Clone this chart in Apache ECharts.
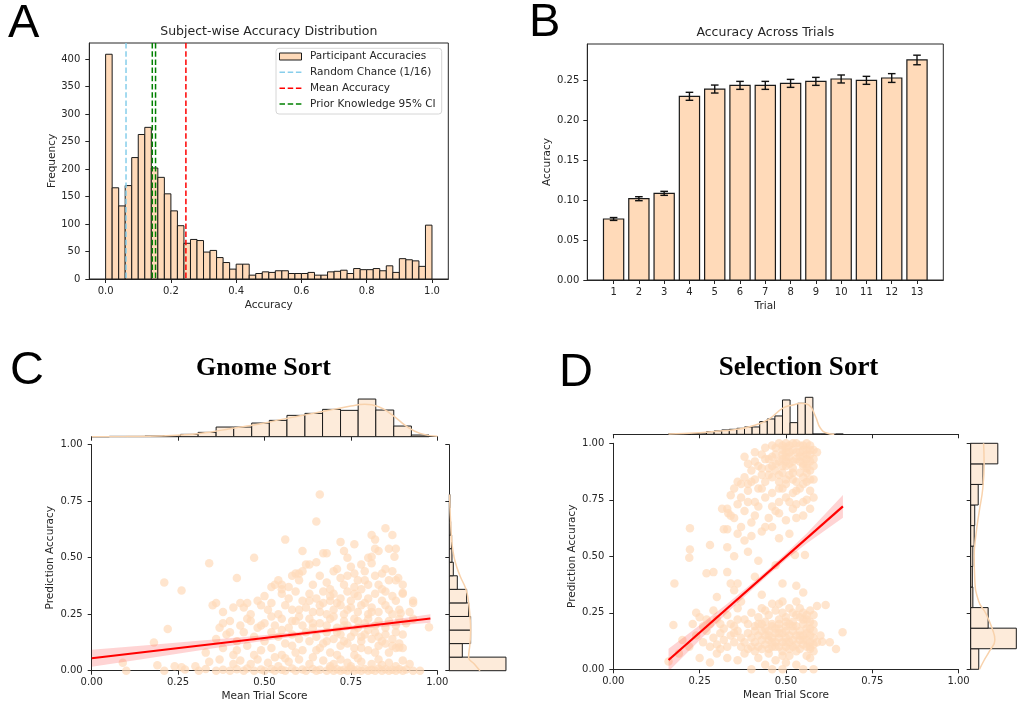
<!DOCTYPE html>
<html><head><meta charset="utf-8">
<script src="https://cdn.jsdelivr.net/npm/echarts@6/dist/echarts.min.js"></script>
<style>html,body{margin:0;padding:0;background:#fff}#c{width:1019px;height:708px}</style>
</head><body><div id="c"></div>
<script>
// ---------- Panel A data ----------
const accBinEdges = [0,0.02,0.04,0.06,0.08,0.10,0.12,0.14,0.16,0.18,0.20,0.22,0.24,0.26,0.28,0.30,0.32,0.34,0.36,0.38,0.40,0.42,0.44,0.46,0.48,0.50,0.52,0.54,0.56,0.58,0.60,0.62,0.64,0.66,0.68,0.70,0.72,0.74,0.76,0.78,0.80,0.82,0.84,0.86,0.88,0.90,0.92,0.94,0.96,0.98,1.00];
const accCounts = [409,166,133,170,221,263,276,202,185,155,124,97,65,72,70,49,52,39,30,18,27,27,7,10,13,12,15,15,10,10,10,12,7,7,13,14,16,10,19,17,17,19,15,24,12,37,35,33,23,98];
const refLineNames = ['Participant Accuracies','Random Chance (1/16)','Mean Accuracy','Prior Knowledge 95% CI'];
const refLineValues = [0.0625, 0.246, 0.143, 0.153];
const accXTicks = [0,0.2,0.4,0.6,0.8,1.0];
const accYTicks = [0,50,100,150,200,250,300,350,400];

// ---------- Panel B data ----------
const trials = [1,2,3,4,5,6,7,8,9,10,11,12,13];
const trialAcc = [0.0764,0.1018,0.1085,0.2300,0.2391,0.2437,0.2437,0.2462,0.2487,0.2517,0.2500,0.2529,0.2755];
const trialErr = [0.0018,0.0025,0.0025,0.0050,0.0050,0.0050,0.0050,0.0050,0.0050,0.0050,0.0050,0.0055,0.0060];
const trialYTicks = [0,0.05,0.10,0.15,0.20,0.25];

// ---------- Panel C data (Gnome Sort) ----------
const gnomePoints = [
[0.10,0.0],[0.21,0.0],[0.27,0.005],[0.31,0.0],[0.33,0.008],[0.36,0.0],[0.38,0.004],[0.40,0.0],[0.42,0.006],[0.44,0.0],[0.45,0.01],[0.47,0.0],[0.49,0.005],[0.50,0.0],[0.52,0.008],[0.53,0.0],[0.55,0.004],[0.56,0.0],[0.58,0.01],[0.59,0.0],[0.61,0.005],[0.62,0.0],[0.64,0.008],[0.65,0.0],[0.66,0.004],[0.68,0.0],[0.69,0.01],[0.70,0.0],[0.71,0.006],[0.72,0.0],[0.73,0.004],[0.74,0.0],[0.75,0.01],[0.76,0.0],[0.77,0.005],[0.78,0.0],[0.79,0.008],[0.80,0.0],[0.81,0.004],[0.82,0.0],[0.83,0.01],[0.84,0.0],[0.85,0.006],[0.86,0.0],[0.87,0.004],[0.88,0.0],[0.89,0.008],[0.90,0.0],[0.91,0.005],[0.93,0.0],[0.95,0.0],
[0.09,0.035],[0.19,0.024],[0.24,0.02],[0.26,0.015],[0.30,0.02],[0.34,0.04],[0.37,0.05],[0.41,0.03],[0.43,0.045],[0.46,0.03],[0.48,0.05],[0.51,0.035],[0.54,0.02],[0.57,0.04],[0.60,0.05],[0.63,0.03],[0.67,0.045],[0.70,0.03],[0.72,0.05],[0.75,0.02],[0.78,0.04],[0.81,0.03],[0.83,0.05],[0.86,0.035],[0.88,0.02],[0.90,0.045],[0.92,0.03],[0.74,0.035],[0.77,0.055],[0.69,0.02],[0.56,0.055],[0.84,0.025],
[0.33,0.08],[0.38,0.10],[0.41,0.07],[0.45,0.11],[0.49,0.09],[0.52,0.10],[0.55,0.07],[0.58,0.11],[0.61,0.09],[0.64,0.06],[0.66,0.10],[0.69,0.08],[0.72,0.11],[0.76,0.07],[0.78,0.10],[0.80,0.09],[0.83,0.11],[0.86,0.08],[0.88,0.10],[0.89,0.103],[0.42,0.09],[0.47,0.07],[0.53,0.06],[0.59,0.08],[0.65,0.09],[0.71,0.07],[0.76,0.10],[0.82,0.08],[0.87,0.11],[0.90,0.10],
[0.18,0.125],[0.36,0.14],[0.39,0.16],[0.42,0.13],[0.44,0.17],[0.47,0.15],[0.50,0.13],[0.52,0.17],[0.54,0.15],[0.56,0.12],[0.58,0.16],[0.60,0.14],[0.62,0.17],[0.63,0.13],[0.65,0.15],[0.67,0.12],[0.68,0.17],[0.70,0.14],[0.72,0.16],[0.73,0.13],[0.75,0.15],[0.76,0.17],[0.78,0.13],[0.79,0.16],[0.81,0.14],[0.82,0.17],[0.84,0.13],[0.85,0.16],[0.87,0.14],[0.89,0.12],[0.90,0.16],[0.74,0.12],[0.71,0.17],[0.68,0.13],[0.83,0.15],[0.88,0.17],[0.85,0.12],[0.78,0.15],[0.55,0.18],[0.40,0.17],
[0.22,0.185],[0.37,0.19],[0.40,0.22],[0.43,0.20],[0.45,0.23],[0.48,0.19],[0.50,0.21],[0.53,0.20],[0.55,0.23],[0.57,0.19],[0.59,0.22],[0.61,0.20],[0.63,0.23],[0.64,0.19],[0.66,0.21],[0.68,0.20],[0.69,0.23],[0.71,0.19],[0.73,0.22],[0.74,0.20],[0.76,0.23],[0.77,0.19],[0.79,0.21],[0.80,0.23],[0.82,0.20],[0.83,0.22],[0.85,0.19],[0.86,0.22],[0.88,0.20],[0.91,0.21],[0.93,0.23],[0.976,0.192],[0.80,0.18],[0.77,0.22],[0.73,0.20],[0.64,0.21],[0.58,0.22],[0.52,0.24],[0.49,0.20],[0.46,0.22],[0.38,0.21],[0.89,0.23],
[0.35,0.29],[0.36,0.30],[0.38,0.26],[0.41,0.28],[0.46,0.25],[0.49,0.29],[0.51,0.27],[0.54,0.25],[0.56,0.29],[0.58,0.27],[0.60,0.24],[0.62,0.28],[0.64,0.26],[0.66,0.29],[0.68,0.25],[0.70,0.27],[0.71,0.30],[0.73,0.25],[0.75,0.28],[0.77,0.26],[0.78,0.29],[0.80,0.25],[0.81,0.28],[0.83,0.26],[0.85,0.29],[0.87,0.25],[0.89,0.27],[0.92,0.26],[0.894,0.254],[0.81,0.26],[0.74,0.27],[0.72,0.29],[0.66,0.26],[0.60,0.27],[0.44,0.28],[0.86,0.27],[0.70,0.24],
[0.43,0.30],[0.45,0.30],[0.48,0.31],[0.50,0.33],[0.52,0.30],[0.55,0.34],[0.57,0.32],[0.59,0.35],[0.61,0.31],[0.63,0.34],[0.65,0.32],[0.67,0.35],[0.69,0.31],[0.70,0.34],[0.72,0.32],[0.74,0.35],[0.75,0.31],[0.77,0.33],[0.78,0.36],[0.80,0.32],[0.82,0.34],[0.84,0.31],[0.85,0.35],[0.87,0.33],[0.90,0.34],[0.93,0.31],[0.93,0.30],[0.90,0.345],[0.88,0.31],[0.79,0.30],[0.76,0.34],[0.69,0.33],[0.67,0.30],[0.63,0.31],
[0.21,0.39],[0.26,0.355],[0.42,0.41],[0.52,0.37],[0.55,0.38],[0.57,0.37],[0.60,0.40],[0.64,0.38],[0.68,0.39],[0.69,0.36],[0.72,0.41],[0.73,0.38],[0.76,0.37],[0.77,0.40],[0.79,0.40],[0.80,0.38],[0.83,0.38],[0.84,0.36],[0.86,0.40],[0.88,0.40],[0.90,0.38],[0.887,0.41],[0.53,0.38],[0.54,0.40],[0.55,0.36],[0.66,0.42],[0.74,0.42],[0.82,0.42],
[0.58,0.42],[0.59,0.43],[0.60,0.43],[0.61,0.44],[0.62,0.47],[0.65,0.48],[0.70,0.44],[0.71,0.45],[0.75,0.46],[0.76,0.43],[0.78,0.47],[0.79,0.44],[0.81,0.475],[0.84,0.43],[0.85,0.45],[0.87,0.44],[0.81,0.504],[0.876,0.504],
[0.34,0.475],[0.47,0.50],[0.61,0.53],[0.67,0.52],[0.68,0.52],[0.73,0.53],[0.74,0.50],[0.80,0.50],[0.83,0.53],[0.86,0.54],[0.88,0.54],[0.82,0.54],[0.63,0.47],
[0.56,0.58],[0.72,0.57],[0.76,0.56],[0.82,0.58],[0.81,0.60],[0.87,0.60],[0.85,0.63],[0.65,0.66],[0.66,0.78]
];
const gnomeFitX = [0, 0.98];
const gnomeFitY = [0.055, 0.231];
const gnomeBandX  = [0, 0.15, 0.30, 0.45, 0.60, 0.75, 0.90, 0.98];
const gnomeBandLo = [0.017,0.052,0.087,0.122,0.154,0.181,0.202,0.212];
const gnomeBandHi = [0.093,0.112,0.131,0.150,0.172,0.199,0.232,0.250];
const gnomeTopEdges = [0.000,0.051,0.103,0.154,0.206,0.257,0.308,0.360,0.411,0.463,0.514,0.565,0.617,0.668,0.720,0.771,0.822,0.874,0.925,0.976];
const gnomeTopCounts = [0,1,1,2,3,7,13,29,29,41,49,64,70,82,79,113,80,32,5];
const gnomeTopKdeX = [0,0.1,0.2,0.3,0.35,0.4,0.45,0.5,0.55,0.6,0.65,0.7,0.75,0.79,0.83,0.87,0.91,0.95,1.0];
const gnomeTopKdeY = [0,0.5,2,8,15,24,32,41,52,62,72,82,92,97,90,65,32,10,1];
const gnomeRightEdges = [0,0.06,0.12,0.18,0.24,0.30,0.36,0.42,0.48,0.54,0.60,0.66,0.72,0.78];
const gnomeRightCounts = [170,39,64,64,58,52,24,12,8,7,4,1,2];
const gnomeRightKdeY = [0,0.03,0.06,0.12,0.18,0.24,0.30,0.36,0.42,0.48,0.54,0.60,0.66,0.72,0.78];
const gnomeRightKdeX = [92,75,58,62,64,62,58,50,32,18,10,6,4,2,1];

// ---------- Panel D data (Selection Sort) ----------
const selPoints = [
[0.46,0.99],[0.47,0.95],[0.48,1.0],[0.49,0.97],[0.49,0.93],[0.50,1.0],[0.50,0.96],[0.50,0.92],[0.51,0.99],[0.51,0.94],[0.52,0.97],[0.53,1.0],[0.53,0.93],[0.54,0.96],[0.55,0.99],[0.55,0.94],[0.55,0.91],[0.56,1.0],[0.56,0.97],[0.56,0.93],[0.57,0.99],[0.57,0.95],[0.57,0.92],[0.58,0.97],[0.45,0.93],[0.44,0.98],[0.43,0.95],[0.41,0.92],[0.39,0.91],[0.38,0.94],[0.52,0.92],[0.54,0.92],[0.48,0.92],[0.47,0.98],[0.46,0.94],[0.53,0.96],[0.58,0.93],[0.59,0.96],[0.56,0.95],[0.50,0.94],[0.49,0.99],[0.55,0.97],[0.51,0.91],[0.54,0.99],[0.57,0.97],[0.52,1.0],[0.49,0.95],[0.50,0.98],[0.56,0.91],[0.44,0.93],[0.47,0.91],[0.51,0.96],[0.54,0.94],[0.41,0.96],
[0.36,0.83],[0.38,0.85],[0.40,0.88],[0.41,0.84],[0.42,0.90],[0.43,0.86],[0.44,0.83],[0.45,0.89],[0.46,0.85],[0.47,0.88],[0.48,0.83],[0.49,0.87],[0.50,0.90],[0.50,0.84],[0.51,0.86],[0.52,0.89],[0.53,0.83],[0.54,0.87],[0.55,0.85],[0.55,0.90],[0.56,0.83],[0.57,0.88],[0.58,0.84],[0.39,0.82],[0.46,0.90],[0.52,0.84],[0.56,0.87],[0.48,0.86],[0.45,0.86],[0.49,0.90],[0.52,0.87],[0.56,0.89],[0.57,0.84],[0.58,0.90],[0.40,0.83],[0.43,0.89],
[0.33,0.71],[0.35,0.80],[0.37,0.76],[0.37,0.82],[0.39,0.79],[0.41,0.74],[0.43,0.80],[0.44,0.76],[0.46,0.78],[0.48,0.74],[0.49,0.80],[0.50,0.76],[0.52,0.78],[0.53,0.73],[0.54,0.80],[0.56,0.75],[0.57,0.79],[0.58,0.76],[0.48,0.80],[0.50,0.82],[0.53,0.79],[0.55,0.82],[0.42,0.80],[0.34,0.77],[0.39,0.74],[0.36,0.73],
[0.315,0.71],[0.333,0.69],[0.35,0.67],[0.34,0.68],[0.38,0.70],[0.40,0.65],[0.42,0.72],[0.45,0.67],[0.47,0.70],[0.50,0.66],[0.52,0.71],[0.55,0.68],[0.46,0.72],[0.48,0.69],[0.51,0.74],[0.53,0.67],[0.55,0.74],[0.57,0.71],[0.41,0.68],
[0.32,0.62],[0.33,0.62],[0.36,0.60],[0.38,0.57],[0.40,0.59],[0.43,0.61],[0.46,0.63],[0.48,0.58],[0.51,0.60],[0.44,0.63],[0.37,0.63],[0.222,0.624],
[0.222,0.53],[0.22,0.494],[0.28,0.55],[0.33,0.54],[0.35,0.50],[0.39,0.52],[0.42,0.48],[0.47,0.46],[0.526,0.506],[0.555,0.506],
[0.177,0.38],[0.27,0.425],[0.29,0.43],[0.33,0.43],[0.34,0.38],[0.36,0.38],[0.41,0.41],[0.49,0.38],
[0.30,0.32],[0.35,0.35],[0.37,0.30],[0.43,0.33],[0.48,0.29],[0.53,0.37],[0.55,0.34],[0.615,0.285],
[0.174,0.196],[0.24,0.25],[0.27,0.22],[0.29,0.26],[0.31,0.20],[0.33,0.24],[0.35,0.19],[0.36,0.27],[0.38,0.22],[0.40,0.25],[0.41,0.19],[0.42,0.23],[0.43,0.27],[0.44,0.21],[0.45,0.24],[0.46,0.19],[0.47,0.26],[0.48,0.22],[0.49,0.25],[0.50,0.19],[0.50,0.23],[0.51,0.27],[0.52,0.21],[0.52,0.25],[0.53,0.19],[0.54,0.23],[0.54,0.27],[0.55,0.20],[0.55,0.25],[0.56,0.22],[0.56,0.18],[0.57,0.26],[0.57,0.21],[0.58,0.24],[0.59,0.28],[0.46,0.29],[0.49,0.30],[0.53,0.30],[0.44,0.26],
[0.43,0.20],[0.46,0.20],[0.48,0.20],[0.50,0.21],[0.51,0.20],[0.53,0.24],[0.55,0.22],[0.56,0.24],[0.57,0.18],[0.58,0.20],[0.52,0.19],[0.44,0.18],[0.42,0.20],[0.39,0.20],[0.36,0.22],[0.34,0.20],[0.32,0.18],[0.30,0.22],[0.28,0.20],[0.26,0.19],[0.25,0.23],[0.23,0.20],
[0.20,0.13],[0.22,0.10],[0.24,0.15],[0.26,0.12],[0.27,0.17],[0.28,0.10],[0.29,0.14],[0.30,0.11],[0.31,0.16],[0.32,0.13],[0.33,0.10],[0.34,0.15],[0.35,0.12],[0.36,0.17],[0.37,0.10],[0.37,0.14],[0.38,0.12],[0.39,0.16],[0.40,0.10],[0.40,0.14],[0.41,0.12],[0.41,0.17],[0.42,0.10],[0.42,0.15],[0.43,0.13],[0.43,0.17],[0.44,0.11],[0.44,0.15],[0.45,0.13],[0.45,0.17],[0.46,0.10],[0.46,0.14],[0.47,0.12],[0.47,0.16],[0.48,0.10],[0.48,0.14],[0.48,0.18],[0.49,0.12],[0.49,0.16],[0.50,0.10],[0.50,0.14],[0.50,0.17],[0.51,0.12],[0.51,0.15],[0.52,0.10],[0.52,0.13],[0.52,0.17],[0.53,0.11],[0.53,0.15],[0.54,0.09],[0.54,0.13],[0.54,0.17],[0.55,0.11],[0.55,0.15],[0.56,0.10],[0.56,0.13],[0.56,0.16],[0.57,0.12],[0.57,0.15],[0.57,0.09],[0.58,0.11],[0.58,0.14],[0.58,0.17],[0.59,0.12],[0.60,0.15],[0.605,0.122],[0.627,0.12],[0.645,0.09],[0.664,0.164],[0.47,0.18],[0.43,0.09],[0.39,0.09],[0.35,0.16],[0.31,0.09],
[0.41,0.08],[0.45,0.09],[0.47,0.10],[0.49,0.08],[0.51,0.09],[0.53,0.08],[0.55,0.13],[0.57,0.10],[0.58,0.08],[0.56,0.06],[0.49,0.06],[0.46,0.12],[0.50,0.12],[0.54,0.15],[0.48,0.16],[0.45,0.15],
[0.16,0.035],[0.19,0.07],[0.25,0.05],[0.28,0.03],[0.30,0.07],[0.33,0.05],[0.36,0.04],[0.38,0.07],[0.40,0.0],[0.42,0.05],[0.44,0.02],[0.45,0.07],[0.47,0.04],[0.49,0.0],[0.51,0.06],[0.53,0.02],[0.55,0.0],[0.57,0.05],[0.58,0.0],[0.50,0.03],[0.46,0.0]
];
const selFitX = [0.16, 0.665];
const selFitY = [0.041, 0.721];
const selBandX  = [0.16,0.25,0.33,0.40,0.45,0.50,0.56,0.62,0.665];
const selBandLo = [-0.009,0.129,0.250,0.350,0.418,0.485,0.557,0.622,0.671];
const selBandHi = [0.091,0.195,0.290,0.378,0.444,0.513,0.601,0.698,0.771];
const selTopEdges = [0.160,0.182,0.204,0.226,0.248,0.270,0.292,0.314,0.336,0.358,0.380,0.402,0.424,0.446,0.468,0.490,0.512,0.534,0.556,0.578,0.600,0.622,0.644,0.666];
const selTopCounts = [1,1,1,2,4,8,10,13,15,18,22,22,38,46,55,103,35,93,111,1,1,0,1];
const selTopKdeX = [0.16,0.25,0.30,0.35,0.40,0.45,0.49,0.52,0.545,0.566,0.585,0.60,0.62,0.64];
const selTopKdeY = [1,5,9,14,24,45,78,88,93,88,55,18,3,0];
const selRightEdges = [0,0.091,0.182,0.273,0.364,0.455,0.545,0.636,0.727,0.818,0.909,1.0];
const selRightCounts = [30,170,65,8,6,8,13,15,28,46,101];
const selRightKdeY = [0,0.04,0.08,0.13,0.18,0.25,0.30,0.40,0.50,0.60,0.70,0.80,0.91,1.0];
const selRightKdeX = [33,50,70,90,80,55,30,15,13,20,32,45,50,48];

const jointTicks = [0,0.25,0.5,0.75,1.0];

// ---------- styles ----------
const FONT = 'DejaVu Sans';
const INK = '#262626';
const BAR = '#FFDAB9';
const MARG = '#FDEBDA';
const KDE = '#F8D2AC';
const refLineColors = ['#87CEEB','#FF0000','#008000','#008000'];

function mkAxis(o) {
  return {
    type:'value', gridIndex:o.grid, min:o.min, max:o.max, position:o.pos, show:o.show !== false,
    splitLine:{show:false},
    axisLine:{show:o.line !== false, onZero:false, lineStyle:{color:INK, width:1}},
    axisTick:{show:!!o.ticks, length:4, lineStyle:{color:INK, width:1}, customValues:o.ticks},
    axisLabel:{show:!!o.fmt, customValues:o.ticks, formatter:o.fmt, color:INK, fontSize:10, fontFamily:FONT, margin:o.margin || 6},
    name:o.name || '', nameLocation:'middle', nameGap:o.gap || 20, nameRotate:o.rot || 0,
    nameTextStyle:{color:INK, fontSize:10.5, fontFamily:FONT}
  };
}
const f1 = v => v.toFixed(1), f2 = v => v.toFixed(2), f0 = v => String(Math.round(v));

function histSeries(edges, counts, xi, yi, horizontal, fill) {
  const data = counts.map((c, i) => [edges[i], edges[i+1], c]);
  return {
    type:'custom', xAxisIndex:xi, yAxisIndex:yi, data, clip:false,
    encode: horizontal ? {y:[0,1], x:2} : {x:[0,1], y:2},
    renderItem(params, api) {
      const a = api.value(0), b = api.value(1), c = api.value(2);
      let p0, p1;
      if (!horizontal) { p0 = api.coord([a, 0]); p1 = api.coord([b, c]); }
      else { p0 = api.coord([0, a]); p1 = api.coord([c, b]); }
      return {type:'rect', shape:{x:Math.min(p0[0],p1[0]), y:Math.min(p0[1],p1[1]), width:Math.abs(p1[0]-p0[0]), height:Math.abs(p1[1]-p0[1])},
        style:{fill, stroke:'#1a1a1a', lineWidth:1}};
    }
  };
}
function lineSeries(xs, ys, xi, yi, color, width, smooth) {
  return {type:'line', xAxisIndex:xi, yAxisIndex:yi, data:xs.map((x,i)=>[x, ys[i]]), symbol:'none', smooth:smooth || false,
    lineStyle:{color, width}, silent:true, z:4};
}
function bandSeries(xs, lo, hi, xi, yi) {
  return {type:'custom', xAxisIndex:xi, yAxisIndex:yi, data:[[xs[0], lo[0]]], clip:true, z:3,
    renderItem(params, api) {
      const pts = [];
      xs.forEach((x,i) => pts.push(api.coord([x, hi[i]])));
      for (let i = xs.length-1; i >= 0; i--) pts.push(api.coord([xs[i], lo[i]]));
      return {type:'polygon', shape:{points:pts}, style:{fill:'rgba(255,60,60,0.22)'}};
    }};
}
function scatterSeries(pts, xi, yi) {
  return {type:'scatter', xAxisIndex:xi, yAxisIndex:yi, data:pts, symbolSize:8.5, clip:true, z:2,
    itemStyle:{color:BAR, opacity:0.7}, silent:true};
}
const letterStyle = {fontFamily:'Liberation Sans', fontSize:47, fontWeight:'normal', color:'#000'};

const option = {
  animation:false,
  backgroundColor:'#fff',
  title:[
    {text:'A', left:8, top:1, padding:0, textStyle:letterStyle},
    {text:'B', left:529, top:0, padding:0, textStyle:letterStyle},
    {text:'C', left:10, top:348, padding:0, textStyle:letterStyle},
    {text:'D', left:559, top:350, padding:0, textStyle:letterStyle},
    {text:'Subject-wise Accuracy Distribution', left:268.8, textAlign:'center', top:25, padding:0, textStyle:{fontFamily:FONT, fontSize:12.5, fontWeight:'normal', color:INK}},
    {text:'Accuracy Across Trials', left:765.3, textAlign:'center', top:26, padding:0, textStyle:{fontFamily:FONT, fontSize:12.5, fontWeight:'normal', color:INK}},
    {text:'Gnome Sort', left:263.5, textAlign:'center', top:355, padding:0, textStyle:{fontFamily:'Liberation Serif', fontSize:26, fontWeight:'bold', color:'#000'}},
    {text:'Selection Sort', left:798.5, textAlign:'center', top:355, padding:0, textStyle:{fontFamily:'Liberation Serif', fontSize:27, fontWeight:'bold', color:'#000'}}
  ],
  grid:[
    {left:89.3, top:43, width:359, height:236, show:true, borderColor:INK, borderWidth:1, backgroundColor:'transparent'},
    {left:587.3, top:44, width:356, height:236, show:true, borderColor:INK, borderWidth:1, backgroundColor:'transparent'},
    {left:91.7, top:444.7, width:345.6, height:226},
    {left:91.7, top:396.7, width:345.6, height:40},
    {left:449.3, top:444.7, width:60, height:226},
    {left:613.3, top:443.3, width:345.3, height:226},
    {left:613.3, top:394.3, width:345.3, height:40},
    {left:970.7, top:443.3, width:60, height:226}
  ],
  xAxis:[
    mkAxis({grid:0, min:-0.05, max:1.05, pos:'bottom', ticks:accXTicks, fmt:f1, name:'Accuracy', gap:21, margin:7}),
    mkAxis({grid:1, min:-0.04, max:14.04, pos:'bottom', ticks:trials, fmt:f0, name:'Trial', gap:21, margin:7}),
    mkAxis({grid:2, min:0, max:1, pos:'bottom', ticks:jointTicks, fmt:f2, name:'Mean Trial Score', gap:20, margin:7}),
    mkAxis({grid:3, min:0, max:1, pos:'bottom', ticks:jointTicks}),
    mkAxis({grid:4, min:0, max:180, show:false}),
    mkAxis({grid:5, min:0, max:1, pos:'bottom', ticks:jointTicks, fmt:f2, name:'Mean Trial Score', gap:20, margin:7}),
    mkAxis({grid:6, min:0, max:1, pos:'bottom', ticks:jointTicks}),
    mkAxis({grid:7, min:0, max:180, show:false})
  ],
  yAxis:[
    mkAxis({grid:0, min:0, max:429.5, pos:'left', ticks:accYTicks, fmt:f0, name:'Frequency', gap:30, rot:90, margin:9}),
    mkAxis({grid:1, min:0, max:0.2955, pos:'left', ticks:trialYTicks, fmt:f2, name:'Accuracy', gap:34, rot:90, margin:8}),
    mkAxis({grid:2, min:0, max:1, pos:'left', ticks:jointTicks, fmt:f2, name:'Prediction Accuracy', gap:36, rot:90, margin:9}),
    mkAxis({grid:3, min:0, max:120, show:false}),
    mkAxis({grid:4, min:0, max:1, pos:'left', ticks:jointTicks}),
    mkAxis({grid:5, min:0, max:1, pos:'left', ticks:jointTicks, fmt:f2, name:'Prediction Accuracy', gap:36, rot:90, margin:9}),
    mkAxis({grid:6, min:0, max:120, show:false}),
    mkAxis({grid:7, min:0, max:1, pos:'left', ticks:jointTicks})
  ],
  series:[
    // A
    Object.assign(histSeries(accBinEdges, accCounts, 0, 0, false, BAR), {name:refLineNames[0]}),
    {type:'custom', xAxisIndex:0, yAxisIndex:0, data:refLineValues.map(v => [v]), encode:{x:0}, z:5,
      renderItem(params, api) {
        const p = api.coord([api.value(0), 0]);
        const cs = params.coordSys;
        return {type:'line', shape:{x1:p[0], y1:cs.y, x2:p[0], y2:cs.y + cs.height},
          style:{stroke:refLineColors[params.dataIndex], lineWidth:1.5, lineDash:[5.5,2.7]}};
      }},
    // B
    {type:'custom', xAxisIndex:1, yAxisIndex:1, data:trials.map((t,i)=>[t, trialAcc[i]]), encode:{x:0, y:1},
      renderItem(params, api) {
        const x = api.value(0), v = api.value(1);
        const p0 = api.coord([x - 0.4, 0]), p1 = api.coord([x + 0.4, v]);
        return {type:'rect', shape:{x:p0[0], y:p1[1], width:p1[0]-p0[0], height:p0[1]-p1[1]}, style:{fill:BAR, stroke:'#1a1a1a', lineWidth:1.2}};
      }},
    {type:'custom', xAxisIndex:1, yAxisIndex:1, data:trials.map((t,i)=>[t, trialAcc[i], trialErr[i]]), encode:{x:0, y:1}, z:5,
      renderItem(params, api) {
        const x = api.value(0), m = api.value(1), e = api.value(2);
        const t = api.coord([x, m + e]), b = api.coord([x, m - e]);
        const cw = 3.8, st = {stroke:'#111', lineWidth:1.4};
        return {type:'group', children:[
          {type:'line', shape:{x1:t[0], y1:t[1], x2:b[0], y2:b[1]}, style:st},
          {type:'line', shape:{x1:t[0]-cw, y1:t[1], x2:t[0]+cw, y2:t[1]}, style:st},
          {type:'line', shape:{x1:b[0]-cw, y1:b[1], x2:b[0]+cw, y2:b[1]}, style:st}
        ]};
      }},
    // C
    scatterSeries(gnomePoints, 2, 2),
    bandSeries(gnomeBandX, gnomeBandLo, gnomeBandHi, 2, 2),
    lineSeries(gnomeFitX, gnomeFitY, 2, 2, '#FF0000', 2.2),
    histSeries(gnomeTopEdges, gnomeTopCounts, 3, 3, false, MARG),
    lineSeries(gnomeTopKdeX, gnomeTopKdeY, 3, 3, KDE, 1.5, 0.5),
    histSeries(gnomeRightEdges, gnomeRightCounts, 4, 4, true, MARG),
    lineSeries(gnomeRightKdeX, gnomeRightKdeY, 4, 4, KDE, 1.5, 0.5),
    // D
    scatterSeries(selPoints, 5, 5),
    bandSeries(selBandX, selBandLo, selBandHi, 5, 5),
    lineSeries(selFitX, selFitY, 5, 5, '#FF0000', 2.2),
    histSeries(selTopEdges, selTopCounts, 6, 6, false, MARG),
    lineSeries(selTopKdeX, selTopKdeY, 6, 6, KDE, 1.5, 0.5),
    histSeries(selRightEdges, selRightCounts, 7, 7, true, MARG),
    lineSeries(selRightKdeX, selRightKdeY, 7, 7, KDE, 1.5, 0.5)
  ],
  graphic:[
    {type:'rect', silent:true, z:100, shape:{x:276, y:48.3, width:165.7, height:65.7, r:3}, style:{fill:'rgba(255,255,255,0.85)', stroke:'#d6d6d6', lineWidth:1}},
    {type:'rect', silent:true, z:101, shape:{x:279.5, y:53, width:22, height:7}, style:{fill:BAR, stroke:'#1a1a1a', lineWidth:1}},
    {type:'line', silent:true, z:101, shape:{x1:279.5, y1:72.3, x2:301.5, y2:72.3}, style:{stroke:refLineColors[0], lineWidth:1.5, lineDash:[5.5,2.7]}},
    {type:'line', silent:true, z:101, shape:{x1:279.5, y1:88.3, x2:301.5, y2:88.3}, style:{stroke:refLineColors[1], lineWidth:1.5, lineDash:[5.5,2.7]}},
    {type:'line', silent:true, z:101, shape:{x1:279.5, y1:104, x2:301.5, y2:104}, style:{stroke:refLineColors[2], lineWidth:1.5, lineDash:[5.5,2.7]}},
    {type:'text', silent:true, z:101, x:310, y:56.5, style:{text:refLineNames[0], fill:INK, font:'10.5px "DejaVu Sans"', verticalAlign:'middle'}},
    {type:'text', silent:true, z:101, x:310, y:72.3, style:{text:refLineNames[1], fill:INK, font:'10.5px "DejaVu Sans"', verticalAlign:'middle'}},
    {type:'text', silent:true, z:101, x:310, y:88.3, style:{text:refLineNames[2], fill:INK, font:'10.5px "DejaVu Sans"', verticalAlign:'middle'}},
    {type:'text', silent:true, z:101, x:310, y:104, style:{text:refLineNames[3], fill:INK, font:'10.5px "DejaVu Sans"', verticalAlign:'middle'}}
  ]
};
const chart = echarts.init(document.getElementById('c'), null, {renderer:'canvas'});
chart.setOption(option);
</script>
</body></html>
